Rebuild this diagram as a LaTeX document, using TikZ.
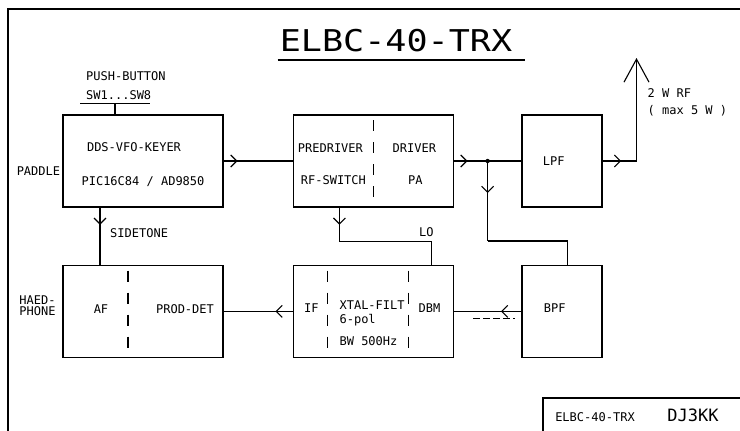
\documentclass[tikz,border=0pt]{standalone}
\usepackage{fontspec}
\setmonofont{DejaVu Sans Mono}
\usepackage{tikz}
\usetikzlibrary{arrows.meta,positioning,calc,decorations.markings}
\tikzstyle{unit} = [rectangle, draw, line width=1.4pt, minimum width=160pt,
    minimum height=92pt, inner sep=0pt]
\tikzstyle{filt} = [unit, minimum width=80pt]
\tikzstyle{lbl} = [font=\ttfamily\fontsize{12}{13}\selectfont, inner sep=0pt]
\tikzstyle{wire} = [line width=1.1pt]
\tikzstyle{divider} = [line width=1.1pt, dash pattern=on 11pt off 11pt]
\tikzstyle{frame} = [line width=1.1pt]
\tikzset{flow/.style={wire, postaction={decorate, decoration={markings,
    mark=at position #1 with {\arrow{Straight Barb[length=6pt,width=12pt]}}}}}}

\begin{document}
\begin{tikzpicture}[x=1pt, y=-1pt, node distance=57pt]
\useasboundingbox (0,0) rectangle (740,431);
% frame and title
\draw[frame] (8,431) |- (740,9);
\node[anchor=base, inner sep=0pt, font=\ttfamily\fontsize{30}{30}\selectfont] (title) at (396,52) {\scalebox{1.17}[1]{ELBC-40-TRX}};
\draw[frame] ([xshift=-2pt,yshift=-8pt]title.base west) -- ([xshift=13pt,yshift=-8pt]title.base east);

% blocks
\node[unit] (dds) at (143,161) {};
\node[unit, right=69pt of dds] (pre) {};
\node[filt, right=67pt of pre] (lpf) {};
\node[unit, below=of dds] (af) {};
\node[unit, below=of pre] (xtal) {};
\node[filt, below=of lpf] (bpf) {};

% block texts
\node[lbl] (ddsa) at ([xshift=-9pt,yshift=14pt]dds.center) {DDS-VFO-KEYER};
\node[lbl] (ddsb) at ([yshift=-21pt]dds.center) {PIC16C84 / AD9850};
\node[lbl] (prea) at ([xshift=-43pt,yshift=13pt]pre.center) {PREDRIVER};
\node[lbl] (preb) at ([xshift=-40pt,yshift=-19pt]pre.center) {RF-SWITCH};
\node[lbl] (drva) at ([xshift=41pt,yshift=13pt]pre.center) {DRIVER};
\node[lbl] (drvb) at ([xshift=42pt,yshift=-19pt]pre.center) {PA};
\node[lbl] (lpft) at ([xshift=-8pt]lpf.center) {LPF};
\node[lbl] (aft) at ([xshift=-42pt,yshift=2pt]af.center) {AF};
\node[lbl] (prod) at ([xshift=42pt,yshift=2pt]af.center) {PROD-DET};
\node[lbl] (ift) at ([xshift=-62pt,yshift=3pt]xtal.center) {IF};
\node[lbl, anchor=west] (xfa) at ([xshift=-34pt,yshift=6pt]xtal.center) {XTAL-FILT};
\node[lbl, anchor=west] (xfb) at ([xshift=-34pt,yshift=-9pt]xtal.center) {6-pol};
\node[lbl, anchor=west] (xfc) at ([xshift=-34pt,yshift=-30pt]xtal.center) {BW 500Hz};
\node[lbl] (dbm) at ([xshift=56pt,yshift=3pt]xtal.center) {DBM};
\node[lbl] (bpft) at ([xshift=-7pt,yshift=3pt]bpf.center) {BPF};

% dividers
\draw[divider] ([yshift=-6pt]pre.north) -- ([yshift=3pt]pre.south);
\draw[divider] ([xshift=-15pt,yshift=-6pt]af.north) -- ([xshift=-15pt,yshift=3pt]af.south);
\draw[divider] ([xshift=-46pt,yshift=-6pt]xtal.north) -- ([xshift=-46pt,yshift=3pt]xtal.south);
\draw[divider] ([xshift=35pt,yshift=-6pt]xtal.north) -- ([xshift=35pt,yshift=3pt]xtal.south);

% outside labels
\coordinate (pb) at ([xshift=-28pt,yshift=11pt]dds.north);
\draw[wire] (pb) -- (pb |- dds.north);
\draw[wire] ([xshift=-35pt]pb) -- ([xshift=35pt]pb);
\node[lbl, anchor=base west] (sw) at ([xshift=-29pt,yshift=4pt]pb) {SW1...SW8};
\node[lbl, anchor=base west] (push) at ([xshift=-29pt,yshift=23pt]pb) {PUSH-BUTTON};
\node[lbl, anchor=base east] (paddle) at ([xshift=-2pt,yshift=-14pt]dds.west) {PADDLE};
\node[lbl, anchor=west, align=left, font=\ttfamily\fontsize{12}{11}\selectfont] (phone) at ([xshift=-43pt,yshift=6pt]af.west) {HAED-\\PHONE};

% connectors
\draw[flow=0.2] (dds.east) -- (pre.west);
\coordinate (jct) at ($(pre.east)!0.5!(lpf.west)$);
\draw[flow=0.2] (pre.east) -- (lpf.west);
\fill (jct) circle (2.2pt);
\coordinate (jdn) at ([yshift=-80pt]jct);
\draw[flow=0.4] (jct) -- (jdn);
\draw[wire] (jdn) -| ([xshift=6pt]bpf.north);

\coordinate (lotop) at ([xshift=-34pt]pre.south);
\coordinate (lodn) at ([yshift=-34pt]lotop);
\coordinate (lokink) at ([xshift=58pt]xtal.north |- lodn);
\draw[flow=0.5] (lotop) -- (lodn);
\draw[wire] (lodn) -- (lokink) -- ([xshift=58pt]xtal.north);
\node[lbl] (lo) at ([xshift=-5pt,yshift=10pt]lokink) {LO};

\coordinate (st) at ([xshift=-43pt]dds.south);
\draw[flow=0.3] (st) -- (st |- af.north);
\node[lbl, anchor=west] (side) at ([xshift=10pt,yshift=-25pt]st) {SIDETONE};

\draw[flow=0.3] (bpf.west) -- (xtal.east);
\draw[wire, dash pattern=on 7pt off 3pt] ([xshift=-48pt,yshift=-7pt]bpf.west) -- ([xshift=-6pt,yshift=-7pt]bpf.west);
\draw[flow=0.25] (xtal.west) -- (af.east);

% antenna
\coordinate (antbase) at ([xshift=34pt]lpf.east);
\coordinate (anttop) at ([yshift=103pt]antbase);
\draw[flow=0.55] (lpf.east) -- (antbase);
\draw[wire, -{Straight Barb[length=23pt,width=25pt]}] (antbase) -- (anttop);
\node[lbl, anchor=west, align=left, font=\ttfamily\fontsize{12}{17}\selectfont] (rf) at ([xshift=11pt,yshift=-44pt]anttop) {2 W RF\\( max 5 W )};

% title block
\draw[frame] (740,398) -| (543,431);
\node[lbl] (tbname) at (595,417) {ELBC-40-TRX};
\node[lbl, font=\ttfamily\fontsize{17}{17}\selectfont] (tbcall) at (693,415) {DJ3KK};
\end{tikzpicture}
\end{document}
